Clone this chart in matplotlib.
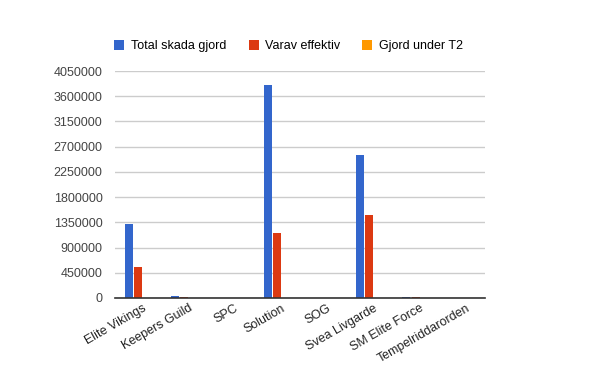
import numpy as np
import matplotlib.pyplot as plt
import matplotlib.transforms as mtransforms

plt.rcParams['font.family'] = ['Liberation Sans', 'DejaVu Sans']

# ── Data ─────────────────────────────────────────
guilds = ['Elite Vikings', 'Keepers Guild', 'SPC', 'Solution', 'SOG',
          'Svea Livgarde', 'SM Elite Force', 'Tempelriddarorden']
total_skada = [1320000, 30000, 0, 3800000, 0, 2550000, 25000, 0]
varav_effektiv = [555000, 10000, 0, 1160000, 0, 1480000, 12000, 0]
gjord_t2 = [0, 0, 0, 0, 0, 0, 0, 0]
series_names = ['Total skada gjord', 'Varav effektiv', 'Gjord under T2']
colors = ['#3366cc', '#dc3912', '#ff9900']
yticks = np.arange(0, 4050001, 450000)

fig = plt.figure(figsize=(6, 3.71), dpi=100)
ax = fig.add_axes([115/600, 1 - 298/371, 370/600, 227/371])

x = np.arange(len(guilds))
bw = 0.19
for i, (vals, col, name) in enumerate(zip([total_skada, varav_effektiv, gjord_t2], colors, series_names)):
    ax.bar(x + (i - 1) * bw - 0.01 + i * 0.01, vals, width=bw * 0.9, color=col, label=name, zorder=3)

ax.set_xlim(-0.5, len(guilds) - 0.5)
ax.set_ylim(0, 4050000)
ax.set_yticks(yticks)
ax.set_yticklabels([str(v) for v in yticks])
ax.yaxis.grid(True, color='#cccccc', lw=1, zorder=0)
for sp in ['top', 'right', 'left']:
    ax.spines[sp].set_visible(False)
ax.spines['bottom'].set_color('#333333')
ax.spines['bottom'].set_linewidth(1.2)
ax.spines['bottom'].set_zorder(4)
ax.tick_params(axis='y', length=0, pad=9, labelsize=9, labelcolor='#444444')
ax.tick_params(axis='x', length=0, pad=3, labelsize=9, labelcolor='#222222')
ax.set_xticks(x)
ax.set_xticklabels(guilds, rotation=30, ha='right', rotation_mode='anchor')
shift = mtransforms.ScaledTranslation(4/100, 0, fig.dpi_scale_trans)
for lbl in ax.get_xticklabels():
    lbl.set_transform(lbl.get_transform() + shift)

ax.legend(loc='lower left', bbox_to_anchor=(-0.015, 1.06), ncol=3, frameon=False,
          fontsize=9, handlelength=0.8, handleheight=0.8, handletextpad=0.5,
          columnspacing=1.8, borderaxespad=0)

fig.savefig('out.png', dpi=100)
